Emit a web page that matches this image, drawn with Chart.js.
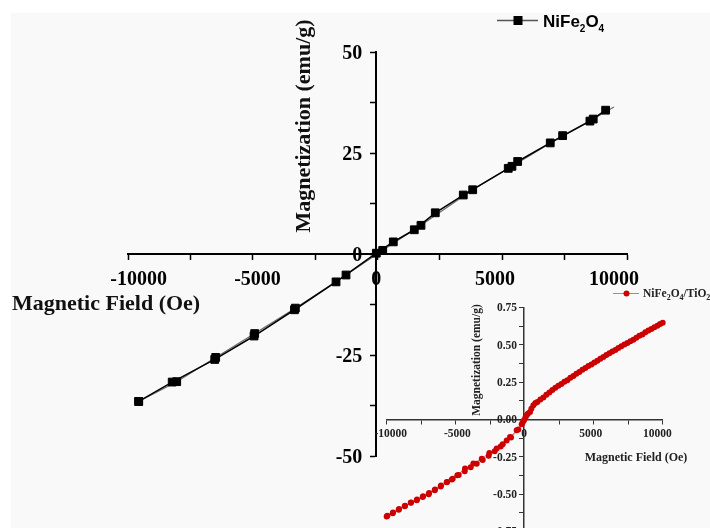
<!DOCTYPE html>
<html>
<head>
<meta charset="utf-8">
<script src="https://cdn.jsdelivr.net/npm/chart.js@4.4.1/dist/chart.umd.min.js"></script>
<style>
    html, body { margin: 0; padding: 0; background: #fff; }
    #wrap { position: relative; width: 710px; height: 528px; overflow: hidden; background: #fff; }
    #paper { position: absolute; left: 11px; top: 13px; right: 0; bottom: 0; background: #f9f9f9; }
    canvas { position: absolute; left: 0; top: 0; }
</style>
</head>
<body>
<div id="wrap">
    <div id="paper"></div>
    <canvas id="mainChart" width="710" height="528"></canvas>
    <canvas id="insetChart" width="710" height="560"></canvas>
</div>
<script>
// NiFe2O4 loop (main plot), field in Oe, magnetization in emu/g
var fieldUp = [-10000, -8590, -6800, -5145, -3445, -1695, 0, 715, 1599, 2482, 3660, 5553, 5949, 7320, 8990, 9651];
var magUp = [-36.5, -31.7, -26.1, -20.3, -13.8, -6.9, 0.2, 3.0, 6.0, 10.2, 14.6, 21.2, 22.9, 27.5, 32.9, 35.6];
var fieldDown = [10000, 9129, 7842, 5709, 4056, 1880, 269, -1275, -3408, -5120, -6760, -8400, -10000];
var magDown = [36.4, 33.4, 29.3, 21.7, 15.9, 7.1, 0.9, -5.2, -13.4, -19.7, -25.6, -31.6, -36.5];

// NiFe2O4/TiO2 loop (inset)
var insetFieldUp = [-10300, -9850, -9400, -8950, -8500, -8050, -7600, -7150, -6700, -6250, -5800, -5350, -4900,
    -4450, -4000, -3550, -3100, -2650, -2200, -1750, -1300, -1050, -550, -175, 0, 200, 450, 700, 1000, 1450,
    1900, 2350, 2800, 3250, 3700, 4150, 4600, 5050, 5500, 5950, 6400, 6850, 7300, 7750, 8200, 8650, 9100,
    9550, 10000, 10400];
var insetMagUp = [-0.650, -0.628, -0.605, -0.581, -0.558, -0.540, -0.519, -0.500, -0.474, -0.449, -0.420, -0.396, -0.372,
    -0.346, -0.320, -0.297, -0.272, -0.242, -0.212, -0.180, -0.140, -0.118, -0.072, -0.032, -0.005, 0.028, 0.050, 0.095, 0.118, 0.147,
    0.180, 0.212, 0.238, 0.262, 0.292, 0.318, 0.345, 0.368, 0.393, 0.419, 0.444, 0.465, 0.490, 0.512, 0.534, 0.560, 0.584,
    0.606, 0.627, 0.648];
var insetFieldDown = [10200, 9775, 9325, 8875, 8425, 7975, 7525, 7075, 6625, 6175, 5725, 5275, 4825, 4375, 3925,
    3475, 3025, 2575, 2125, 1675, 1225, 850, 550, 300, 100, -100, -430, -975, -1600, -2050, -2600, -3170,
    -3800, -4425, -5000, -5420, -5775, -6225, -6675, -7125, -7575, -8025, -8475, -8925, -9375, -9825, -10250];
var insetMagDown = [0.640, 0.617, 0.596, 0.570, 0.548, 0.524, 0.502, 0.478, 0.456, 0.432, 0.407, 0.382, 0.358, 0.333, 0.307,
    0.279, 0.252, 0.226, 0.198, 0.165, 0.134, 0.110, 0.072, 0.040, 0.012, -0.020, -0.067, -0.120, -0.165, -0.194, -0.224, -0.262,
    -0.295, -0.328, -0.373, -0.402, -0.418, -0.442, -0.468, -0.492, -0.514, -0.536, -0.556, -0.578, -0.600, -0.622, -0.645];

// labelled ticks
var mainFieldTicks = [-10000, -5000, 0, 5000, 10000];
var mainMagTicks = [-50, -25, 0, 25, 50];
var insetFieldTicks = [-10000, -5000, 0, 5000, 10000];
var insetMagTicks = [-0.75, -0.5, -0.25, 0, 0.25, 0.5, 0.75];

var SERIF = '"Liberation Serif", "Times New Roman", serif';
var SANS = '"Liberation Sans", Arial, sans-serif';

function toPoints(xs, ys) {
    return xs.map(function (x, i) { return { x: x, y: ys[i] }; });
}

// chemical formula with subscripts, drawn piece by piece
function drawFormula(ctx, parts, x, y, size, subSize, subDrop, family) {
    ctx.textAlign = 'left';
    ctx.textBaseline = 'alphabetic';
    parts.forEach(function (p) {
        ctx.font = 'bold ' + (p.sub ? subSize : size) + 'px ' + family;
        ctx.fillText(p.t, x, p.sub ? y + subDrop : y);
        x += ctx.measureText(p.t).width;
    });
}

// tick labels for axes that cross at the origin (Chart.js puts the y ones on the line)
function drawCrossLabels(chart, o) {
    var ctx = chart.ctx;
    var xs = chart.scales.x, ys = chart.scales.y;
    var x0 = xs.getPixelForValue(0), y0 = ys.getPixelForValue(0);
    ctx.save();
    ctx.fillStyle = o.color;
    ctx.font = 'bold ' + o.size + 'px ' + SERIF;
    ctx.textBaseline = 'alphabetic';
    ctx.textAlign = 'center';
    o.xTicks.forEach(function (v) {
        ctx.fillText(o.xFmt(v), xs.getPixelForValue(v), y0 + o.xDrop);
    });
    ctx.textAlign = 'right';
    o.yTicks.forEach(function (v) {
        ctx.fillText(o.yFmt(v), x0 - o.yGap, ys.getPixelForValue(v) + o.size * 0.34);
    });
    ctx.restore();
}

function axis(opts) {
    return {
        type: 'linear',
        min: opts.min,
        max: opts.max,
        position: opts.position,
        afterFit: opts.flat,
        ticks: {
            stepSize: opts.step,
            includeBounds: false,
            autoSkip: false,
            display: false
        },
        grid: {
            drawOnChartArea: false,
            drawTicks: true,
            tickLength: opts.tick,
            tickWidth: opts.tickWidth,
            tickColor: opts.color
        },
        border: { color: opts.color, width: opts.width }
    };
}

// ---- main chart decorations: tick labels, titles and legend
var mainDecor = {
    id: 'mainDecor',
    afterDraw: function (chart) {
        drawCrossLabels(chart, {
            color: '#000', size: 20, xTicks: mainFieldTicks, yTicks: mainMagTicks,
            xDrop: 31, yGap: 14,
            xFmt: function (v) { return String(v); }, yFmt: function (v) { return String(v); }
        });

        var ctx = chart.ctx;
        ctx.save();
        ctx.fillStyle = '#111';
        ctx.font = 'bold 22px ' + SERIF;
        ctx.textAlign = 'left';
        ctx.textBaseline = 'alphabetic';
        ctx.fillText('Magnetic Field (Oe)', 12, 310);

        ctx.translate(310, 126);
        ctx.rotate(-Math.PI / 2);
        ctx.textAlign = 'center';
        ctx.fillText('Magnetization (emu/g)', 0, 0);
        ctx.restore();

        // legend
        ctx.save();
        ctx.strokeStyle = '#555';
        ctx.lineWidth = 1.5;
        ctx.beginPath();
        ctx.moveTo(497, 20.5);
        ctx.lineTo(538, 20.5);
        ctx.stroke();
        ctx.fillStyle = '#000';
        ctx.fillRect(513.5, 16, 9, 9);
        drawFormula(ctx, [{ t: 'NiFe' }, { t: '2', sub: true }, { t: 'O' }, { t: '4', sub: true }],
            543, 27, 17, 10, 5, SANS);
        ctx.restore();
    }
};

// ---- inset decorations
var insetDecor = {
    id: 'insetDecor',
    afterDraw: function (chart) {
        drawCrossLabels(chart, {
            color: '#222', size: 11.5, xTicks: insetFieldTicks, yTicks: insetMagTicks,
            xDrop: 17, yGap: 7,
            xFmt: function (v) { return String(v); }, yFmt: function (v) { return v.toFixed(2); }
        });

        var ctx = chart.ctx;
        ctx.save();
        ctx.fillStyle = '#222';
        ctx.font = 'bold 12px ' + SERIF;
        ctx.textAlign = 'center';
        ctx.textBaseline = 'alphabetic';
        ctx.fillText('Magnetic Field (Oe)', 636, 461);

        ctx.translate(480, 360);
        ctx.rotate(-Math.PI / 2);
        ctx.font = 'bold 11.5px ' + SERIF;
        ctx.fillText('Magnetization (emu/g)', 0, 0);
        ctx.restore();

        // legend
        ctx.save();
        ctx.strokeStyle = '#e87070';
        ctx.lineWidth = 1;
        ctx.beginPath();
        ctx.moveTo(613, 293.5);
        ctx.lineTo(639, 293.5);
        ctx.stroke();
        ctx.fillStyle = '#cc0000';
        ctx.beginPath();
        ctx.arc(626.5, 293.5, 3, 0, Math.PI * 2);
        ctx.fill();
        ctx.fillStyle = '#222';
        drawFormula(ctx, [{ t: 'NiFe' }, { t: '2', sub: true }, { t: 'O' }, { t: '4', sub: true },
            { t: '/TiO' }, { t: '2', sub: true }], 643, 297, 11.5, 8, 3, SERIF);
        ctx.restore();
    }
};

var squareRadius = 5.5;

new Chart(document.getElementById('mainChart'), {
    type: 'scatter',
    data: {
        datasets: [
            {
                label: 'NiFe₂O₄',
                data: toPoints(fieldUp, magUp),
                showLine: true,
                borderColor: '#000',
                borderWidth: 1.5,
                pointStyle: 'rect',
                pointRadius: squareRadius,
                pointBackgroundColor: '#000',
                pointBorderColor: '#000',
                pointBorderWidth: 1,
                clip: false
            },
            {
                label: 'NiFe₂O₄ (return)',
                data: toPoints(fieldDown, magDown),
                showLine: true,
                borderColor: '#6a6a6a',
                borderWidth: 1.2,
                pointStyle: 'rect',
                pointRadius: function (c) { return c.dataIndex === 0 ? 0 : squareRadius; },
                pointBackgroundColor: '#000',
                pointBorderColor: '#000',
                pointBorderWidth: 1,
                clip: false
            }
        ]
    },
    options: {
        responsive: false,
        animation: false,
        events: [],
        layout: { padding: { left: 128, right: 83, top: 52, bottom: 72 } },
        plugins: { legend: { display: false }, tooltip: { enabled: false } },
        scales: {
            x: axis({
                min: -10450, max: 10550, position: { y: 0 }, step: 2500,
                flat: function (s) { s.height = 0; }, tick: 5, tickWidth: 1.5, color: '#000', width: 2
            }),
            y: axis({
                min: -50, max: 50, position: { x: 0 }, step: 12.5,
                flat: function (s) { s.width = 0; }, tick: 5, tickWidth: 1.5, color: '#000', width: 2
            })
        }
    },
    plugins: [mainDecor]
});

new Chart(document.getElementById('insetChart'), {
    type: 'scatter',
    data: {
        datasets: [
            {
                label: 'NiFe₂O₄/TiO₂',
                data: toPoints(insetFieldUp, insetMagUp),
                showLine: true,
                borderColor: 'rgba(210,40,40,0.6)',
                borderWidth: 1,
                pointRadius: 3,
                pointBackgroundColor: '#cc0000',
                pointBorderWidth: 0,
                clip: false
            },
            {
                label: 'NiFe₂O₄/TiO₂ (return)',
                data: toPoints(insetFieldDown, insetMagDown),
                showLine: true,
                borderColor: 'rgba(210,40,40,0.6)',
                borderWidth: 1,
                pointRadius: 3,
                pointBackgroundColor: '#cc0000',
                pointBorderWidth: 0,
                clip: false
            }
        ]
    },
    options: {
        responsive: false,
        animation: false,
        events: [],
        layout: { padding: { left: 386.7, right: 47.3, top: 307.5, bottom: 28.5 } },
        plugins: { legend: { display: false }, tooltip: { enabled: false } },
        scales: {
            x: axis({
                min: -10300, max: 10400, position: { y: 0 }, step: 2500,
                flat: function (s) { s.height = 0; }, tick: 4, tickWidth: 1, color: '#333', width: 1.5
            }),
            y: axis({
                min: -0.75, max: 0.75, position: { x: 0 }, step: 0.125,
                flat: function (s) { s.width = 0; }, tick: 4, tickWidth: 1, color: '#333', width: 1.5
            })
        }
    },
    plugins: [insetDecor]
});
</script>
</body>
</html>
